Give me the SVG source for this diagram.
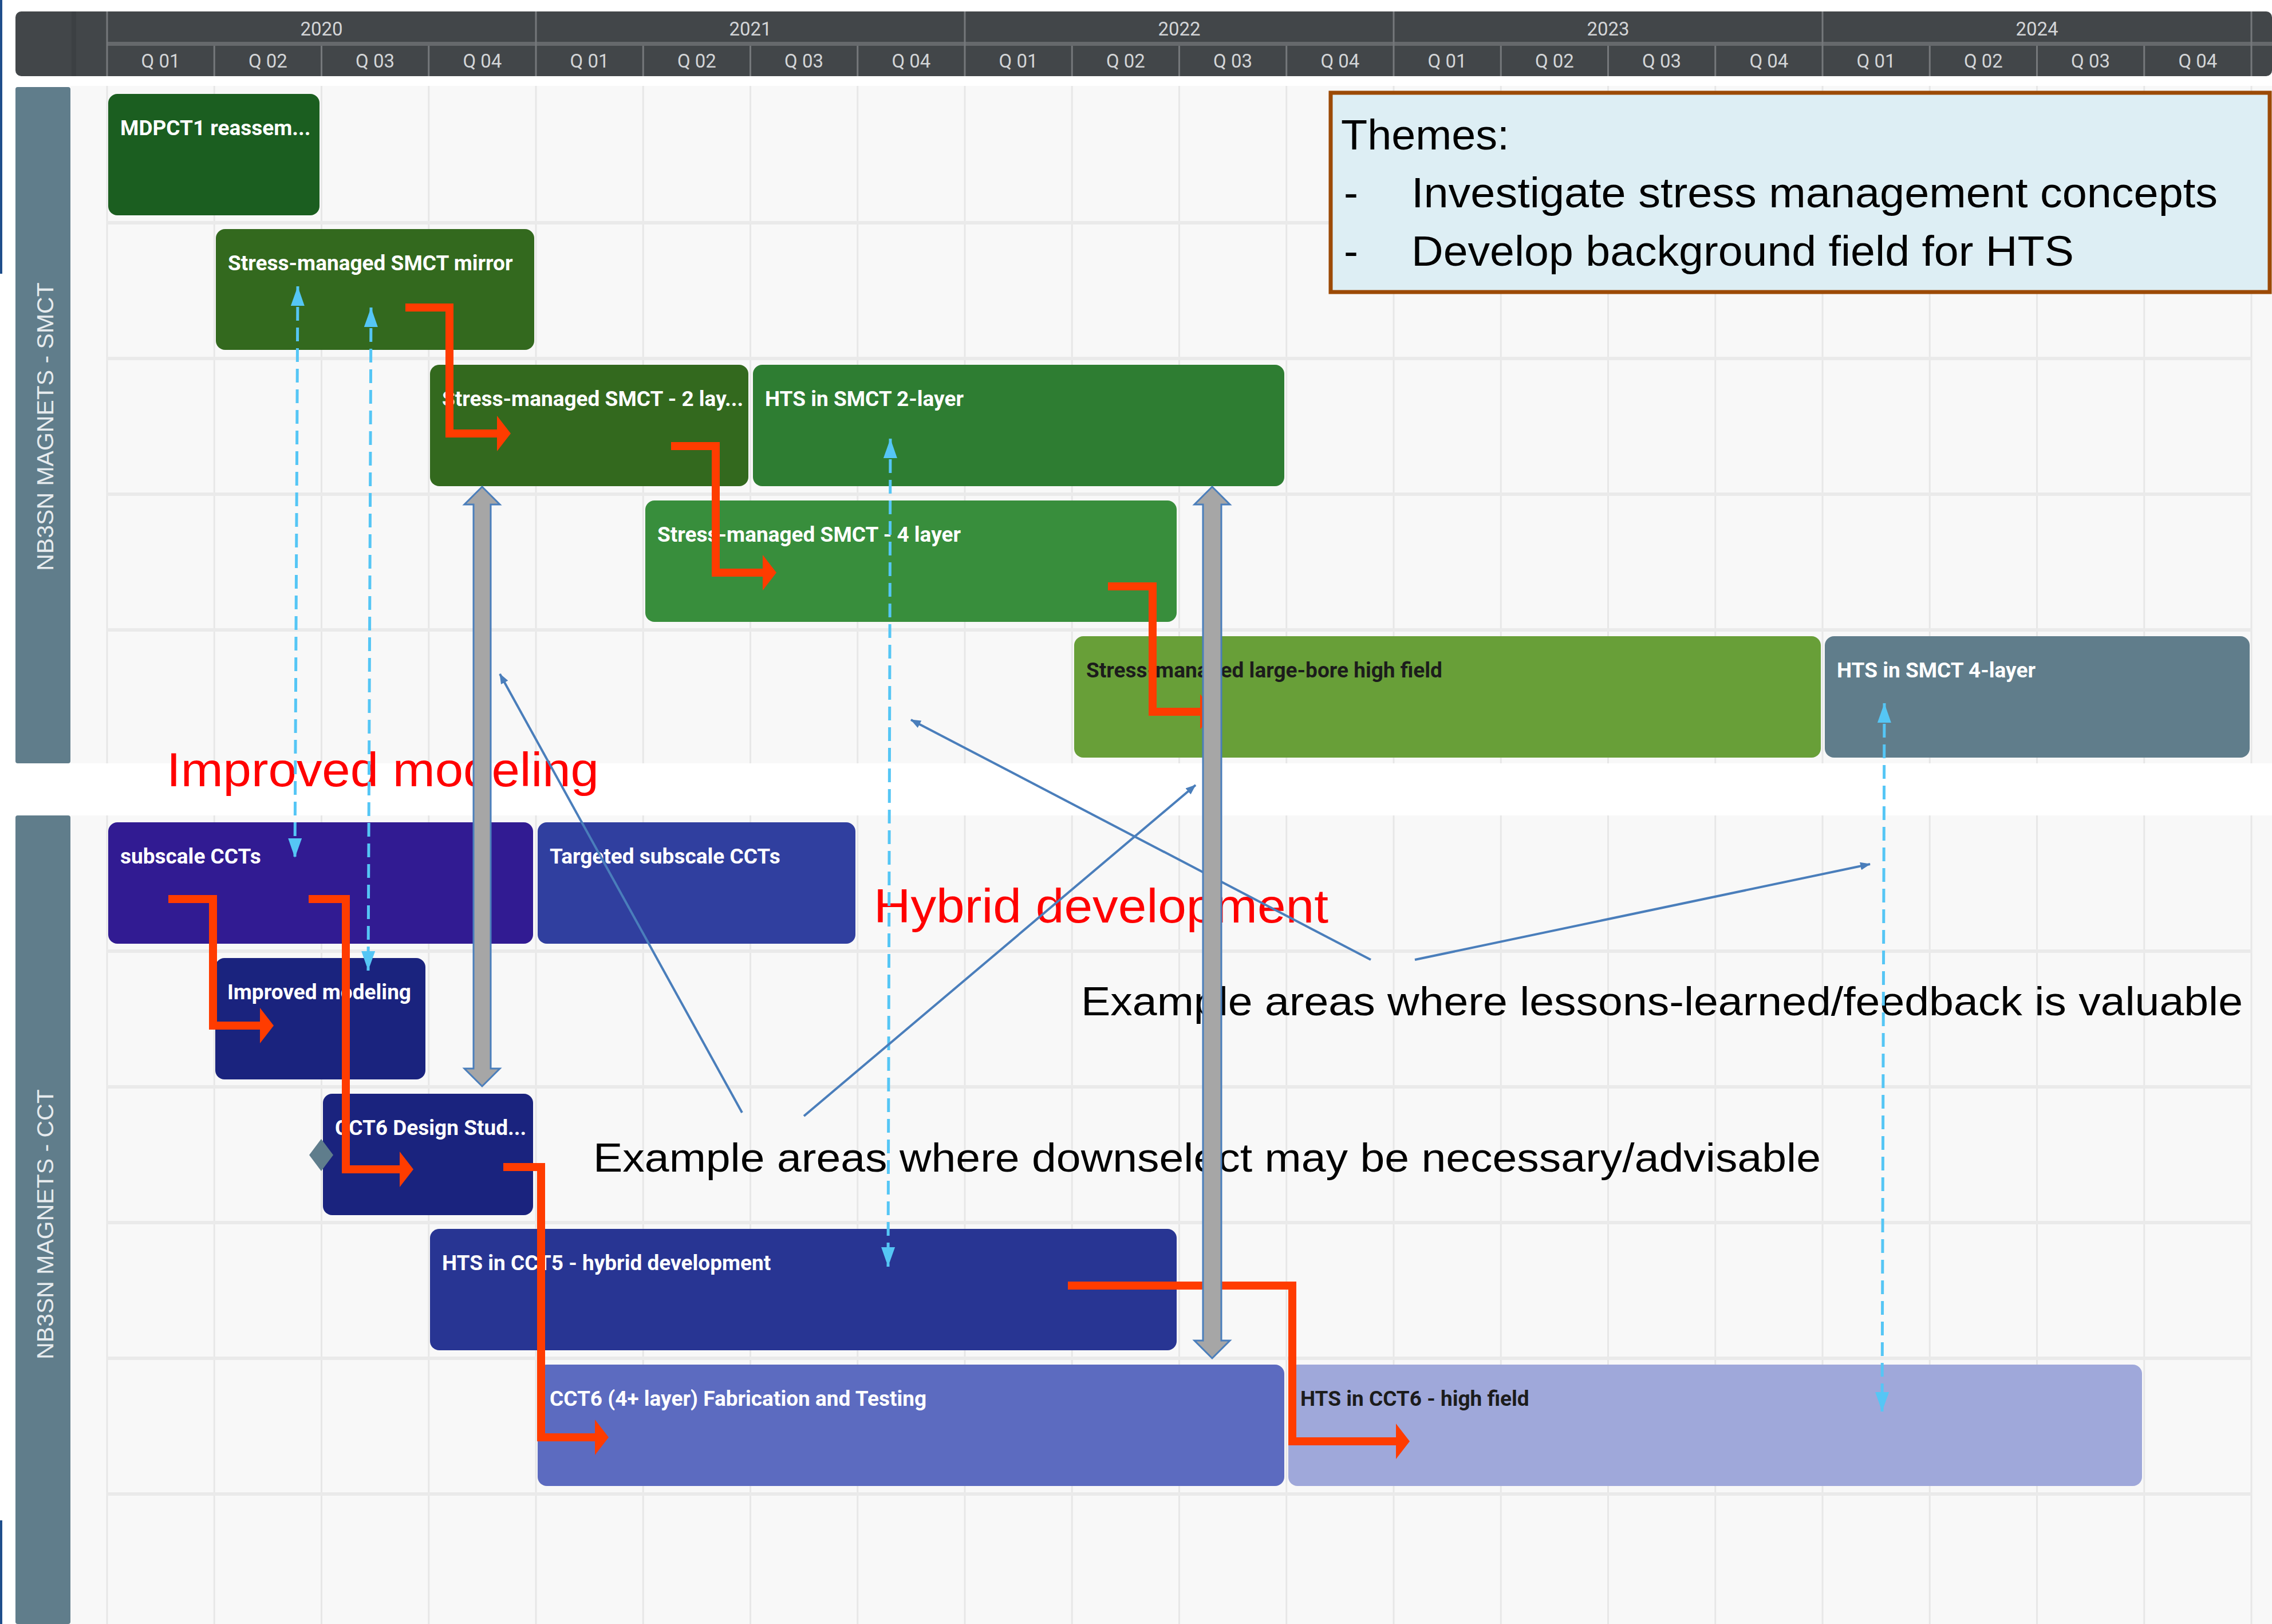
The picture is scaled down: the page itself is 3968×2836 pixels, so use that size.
<svg xmlns="http://www.w3.org/2000/svg" width="3968" height="2836" viewBox="0 0 3968 2836">
<defs>
<style>
.hdr{fill:#424649}
.hsep{stroke:#75787B;stroke-width:3;fill:none}
.yr{font-family:Roboto,"Liberation Sans",sans-serif;font-size:33px;fill:#D3D5D7;text-anchor:middle}
.qt{font-family:Roboto,"Liberation Sans",sans-serif;font-size:33px;fill:#D3D5D7;text-anchor:middle}
.lane{fill:#607D8B}
.lanetxt{font-family:"Liberation Sans",Arial,sans-serif;font-size:41px;fill:#E6EBEE;text-anchor:middle}
.gridbg{fill:#F8F8F8}
.vgrid{stroke:#E7E7E7;stroke-width:3;fill:none}
.hgrid{stroke:#EAEAEA;stroke-width:6;fill:none}
.lbl{font-family:Roboto,"Liberation Sans",sans-serif;font-size:37px;font-weight:bold;fill:#FFFFFF}
.dark{fill:#1C1C1C}
.note{font-family:"Liberation Sans",Arial,sans-serif}
.red{stroke:#FF3C00;stroke-width:14;fill:none;stroke-linejoin:miter}
.dash{stroke:#55C6F5;stroke-width:5;stroke-dasharray:24 12;fill:none}
.thin{stroke:#4A7EBB;stroke-width:4;fill:none}
.block{fill:#A6A6A6;stroke:#4A7EBB;stroke-width:3;stroke-linejoin:miter}
</style>
<marker id="redHead" markerUnits="userSpaceOnUse" viewBox="0 0 24 62" markerWidth="24" markerHeight="62" refX="0" refY="31" orient="auto">
<path d="M0,0 L24,31 L0,62 Z" fill="#FF3C00"/>
</marker>
<marker id="dashHead" markerUnits="userSpaceOnUse" viewBox="0 0 34 24" markerWidth="34" markerHeight="24" refX="34" refY="12" orient="auto-start-reverse">
<path d="M0,0 L34,12 L0,24 Z" fill="#55C6F5"/>
</marker>
<marker id="thinHead" markerUnits="userSpaceOnUse" viewBox="0 0 18 14" markerWidth="18" markerHeight="14" refX="17" refY="7" orient="auto">
<path d="M0,0 L18,7 L0,14 Z" fill="#4A7EBB"/>
</marker>
</defs>

<rect x="0" y="0" width="3968" height="2836" fill="#FFFFFF"/>
<rect x="0" y="0" width="4" height="478" fill="#1F4E8C"/>
<rect x="0" y="2655" width="4" height="181" fill="#1F4E8C"/>

<!-- header -->
<g id="header">
<rect class="hdr" x="27" y="20" width="3941" height="113" rx="10"/>
<rect x="125" y="20" width="8" height="113" fill="#3C4043"/>
<rect x="187" y="73" width="3781" height="7" fill="#66696C"/>
<path class="hsep" d="M187,20V133 M936,20V133 M1685,20V133 M2434,20V133 M3183,20V133 M3932,20V133
M374.25,80V133 M561.5,80V133 M748.75,80V133 M1123.25,80V133 M1310.5,80V133 M1497.75,80V133 M1872.25,80V133 M2059.5,80V133 M2246.75,80V133 M2621.25,80V133 M2808.5,80V133 M2995.75,80V133 M3370.25,80V133 M3557.5,80V133 M3744.75,80V133"/>
<text class="yr" x="561.5" y="62">2020</text>
<text class="yr" x="1310.5" y="62">2021</text>
<text class="yr" x="2059.5" y="62">2022</text>
<text class="yr" x="2808.5" y="62">2023</text>
<text class="yr" x="3557.5" y="62">2024</text>
<text class="qt" x="280.6" y="118">Q 01</text>
<text class="qt" x="467.9" y="118">Q 02</text>
<text class="qt" x="655.1" y="118">Q 03</text>
<text class="qt" x="842.4" y="118">Q 04</text>
<text class="qt" x="1029.6" y="118">Q 01</text>
<text class="qt" x="1216.9" y="118">Q 02</text>
<text class="qt" x="1404.1" y="118">Q 03</text>
<text class="qt" x="1591.4" y="118">Q 04</text>
<text class="qt" x="1778.6" y="118">Q 01</text>
<text class="qt" x="1965.9" y="118">Q 02</text>
<text class="qt" x="2153.1" y="118">Q 03</text>
<text class="qt" x="2340.4" y="118">Q 04</text>
<text class="qt" x="2527.6" y="118">Q 01</text>
<text class="qt" x="2714.9" y="118">Q 02</text>
<text class="qt" x="2902.1" y="118">Q 03</text>
<text class="qt" x="3089.4" y="118">Q 04</text>
<text class="qt" x="3276.6" y="118">Q 01</text>
<text class="qt" x="3463.9" y="118">Q 02</text>
<text class="qt" x="3651.1" y="118">Q 03</text>
<text class="qt" x="3838.4" y="118">Q 04</text>
</g>

<!-- lanes and grid -->
<g id="grid">
<rect class="gridbg" x="123" y="150" width="3845" height="1183"/>
<rect class="gridbg" x="123" y="1424" width="3845" height="1412"/>
<path class="vgrid" d="M187,150V1333 M374.25,150V1333 M561.5,150V1333 M748.75,150V1333 M936,150V1333 M1123.25,150V1333 M1310.5,150V1333 M1497.75,150V1333 M1685,150V1333 M1872.25,150V1333 M2059.5,150V1333 M2246.75,150V1333 M2434,150V1333 M2621.25,150V1333 M2808.5,150V1333 M2995.75,150V1333 M3183,150V1333 M3370.25,150V1333 M3557.5,150V1333 M3744.75,150V1333 M3932,150V1333
M187,1424V2836 M374.25,1424V2836 M561.5,1424V2836 M748.75,1424V2836 M936,1424V2836 M1123.25,1424V2836 M1310.5,1424V2836 M1497.75,1424V2836 M1685,1424V2836 M1872.25,1424V2836 M2059.5,1424V2836 M2246.75,1424V2836 M2434,1424V2836 M2621.25,1424V2836 M2808.5,1424V2836 M2995.75,1424V2836 M3183,1424V2836 M3370.25,1424V2836 M3557.5,1424V2836 M3744.75,1424V2836 M3932,1424V2836"/>
<path class="hgrid" d="M187,389H3932 M187,626H3932 M187,863H3932 M187,1100H3932 M187,1661H3932 M187,1898H3932 M187,2135H3932 M187,2372H3932 M187,2609H3932"/>
</g>

<g id="lane-smct">
<rect class="lane" x="27" y="152" width="96" height="1181" rx="4"/>
<text class="lanetxt" transform="translate(78,745) rotate(-90)" x="0" y="15">NB3SN MAGNETS - SMCT</text>
</g>
<g id="lane-cct">
<rect class="lane" x="27" y="1424" width="96" height="1412" rx="4"/>
<text class="lanetxt" transform="translate(78,2138) rotate(-90)" x="0" y="15">NB3SN MAGNETS - CCT</text>
</g>

<!-- nodes -->
<g id="n-mdpct1"><rect x="189" y="164" width="369" height="212" rx="16" fill="#1B5E20"/><text class="lbl" x="210" y="236">MDPCT1 reassem...</text></g>
<g id="n-mirror"><rect x="377" y="400" width="556" height="211" rx="16" fill="#33691E"/><text class="lbl" x="398" y="472">Stress-managed SMCT mirror</text></g>
<g id="n-smct2"><rect x="751" y="637" width="556" height="212" rx="16" fill="#33691E"/><text class="lbl" x="772" y="709">Stress-managed SMCT - 2 lay...</text></g>
<g id="n-hts2"><rect x="1315" y="637" width="928" height="212" rx="16" fill="#2E7D32"/><text class="lbl" x="1336" y="709">HTS in SMCT 2-layer</text></g>
<g id="n-smct4"><rect x="1127" y="874" width="928" height="212" rx="16" fill="#388E3C"/><text class="lbl" x="1148" y="946">Stress-managed SMCT - 4 layer</text></g>
<g id="n-largebore"><rect x="1876" y="1111" width="1304" height="212" rx="16" fill="#689F38"/><text class="lbl dark" x="1897" y="1183">Stress-managed large-bore high field</text></g>
<g id="n-hts4"><rect x="3187" y="1111" width="742" height="212" rx="16" fill="#607D8B"/><text class="lbl" x="3208" y="1183">HTS in SMCT 4-layer</text></g>

<g id="n-subscale"><rect x="189" y="1436" width="742" height="212" rx="16" fill="#311B92"/><text class="lbl" x="210" y="1508">subscale CCTs</text></g>
<g id="n-targeted"><rect x="939" y="1436" width="555" height="212" rx="16" fill="#303F9F"/><text class="lbl" x="960" y="1508">Targeted subscale CCTs</text></g>
<g id="n-modeling"><rect x="376" y="1673" width="367" height="212" rx="16" fill="#1A237E"/><text class="lbl" x="397" y="1745">Improved modeling</text></g>
<g id="n-cct6design"><rect x="564" y="1910" width="367" height="212" rx="16" fill="#1A237E"/><text class="lbl" x="585" y="1982">CCT6 Design Stud...</text><path d="M561,1989 L582,2017 L561,2045 L540,2017 Z" fill="#5F7D8C"/></g>
<g id="n-cct5"><rect x="751" y="2146" width="1304" height="212" rx="16" fill="#283593"/><text class="lbl" x="772" y="2218">HTS in CCT5 - hybrid development</text></g>
<g id="n-cct6fab"><rect x="939" y="2383" width="1304" height="212" rx="16" fill="#5C6BC0"/><text class="lbl" x="960" y="2455">CCT6 (4+ layer) Fabrication and Testing</text></g>
<g id="n-cct6hts"><rect x="2250" y="2383" width="1491" height="212" rx="16" fill="#9FA8DA"/><text class="lbl dark" x="2271" y="2455">HTS in CCT6 - high field</text></g>

<!-- themes box -->
<g id="themes">
<rect x="2324" y="162" width="1640" height="348" fill="#DDEEF4" stroke="#9C4A06" stroke-width="7"/>
<text class="note" x="2342" y="261" font-size="75" fill="#000" textLength="294" lengthAdjust="spacingAndGlyphs">Themes:</text>
<text class="note" x="2347" y="362" font-size="75" fill="#000">-</text>
<text class="note" x="2465" y="362" font-size="75" fill="#000" textLength="1408" lengthAdjust="spacingAndGlyphs">Investigate stress management concepts</text>
<text class="note" x="2347" y="464" font-size="75" fill="#000">-</text>
<text class="note" x="2465" y="464" font-size="75" fill="#000" textLength="1157" lengthAdjust="spacingAndGlyphs">Develop background field for HTS</text>
</g>

<!-- annotation texts -->
<g id="notes">
<text class="note" x="291" y="1373" font-size="84" fill="#FF0000" textLength="755" lengthAdjust="spacingAndGlyphs">Improved modeling</text>
<text class="note" x="1526" y="1611" font-size="84" fill="#FF0000" textLength="794" lengthAdjust="spacingAndGlyphs">Hybrid development</text>
<text class="note" x="1888" y="1773" font-size="70" fill="#000" textLength="2029" lengthAdjust="spacingAndGlyphs">Example areas where lessons-learned/feedback is valuable</text>
<text class="note" x="1036" y="2046" font-size="70" fill="#000" textLength="2144" lengthAdjust="spacingAndGlyphs">Example areas where downselect may be necessary/advisable</text>
</g>

<!-- connectors -->
<g id="connectors">
<path class="red" marker-end="url(#redHead)" d="M708,537 H785 V757 H868"/>
<path class="red" marker-end="url(#redHead)" d="M1172,779 H1250 V1000 H1332"/>
<path class="red" marker-end="url(#redHead)" d="M1935,1024 H2013 V1243 H2096"/>
<path class="red" marker-end="url(#redHead)" d="M294,1570 H372 V1791 H454"/>
<path class="red" marker-end="url(#redHead)" d="M539,1570 H604 V2042 H698"/>
<path class="red" marker-end="url(#redHead)" d="M879,2038 H945 V2510 H1039"/>
<path class="red" marker-end="url(#redHead)" d="M1865,2245 H2257 V2517 H2438"/>

<path class="dash" marker-start="url(#dashHead)" marker-end="url(#dashHead)" d="M520,500 L515,1498"/>
<path class="dash" marker-start="url(#dashHead)" marker-end="url(#dashHead)" d="M648,537 L643,1695"/>
<path class="dash" marker-start="url(#dashHead)" marker-end="url(#dashHead)" d="M1555,766 L1551,2212"/>
<path class="dash" marker-start="url(#dashHead)" marker-end="url(#dashHead)" d="M3291,1228 L3287,2465"/>

<path class="thin" marker-end="url(#thinHead)" d="M1296,1943 L873,1177"/>
<path class="thin" marker-end="url(#thinHead)" d="M1404,1949 L2088,1371"/>
<path class="thin" marker-end="url(#thinHead)" d="M2394,1676 L1591,1257"/>
<path class="thin" marker-end="url(#thinHead)" d="M2471,1676 L3266,1509"/>

<path class="block" d="M842,850 L873,881 L857,881 L857,1866 L873,1866 L842,1897 L811,1866 L827,1866 L827,881 L811,881 Z"/>
<path class="block" d="M2117,850 L2148,881 L2133,881 L2133,2341 L2148,2341 L2117,2372 L2086,2341 L2101,2341 L2101,881 L2086,881 Z"/>
</g>
</svg>
